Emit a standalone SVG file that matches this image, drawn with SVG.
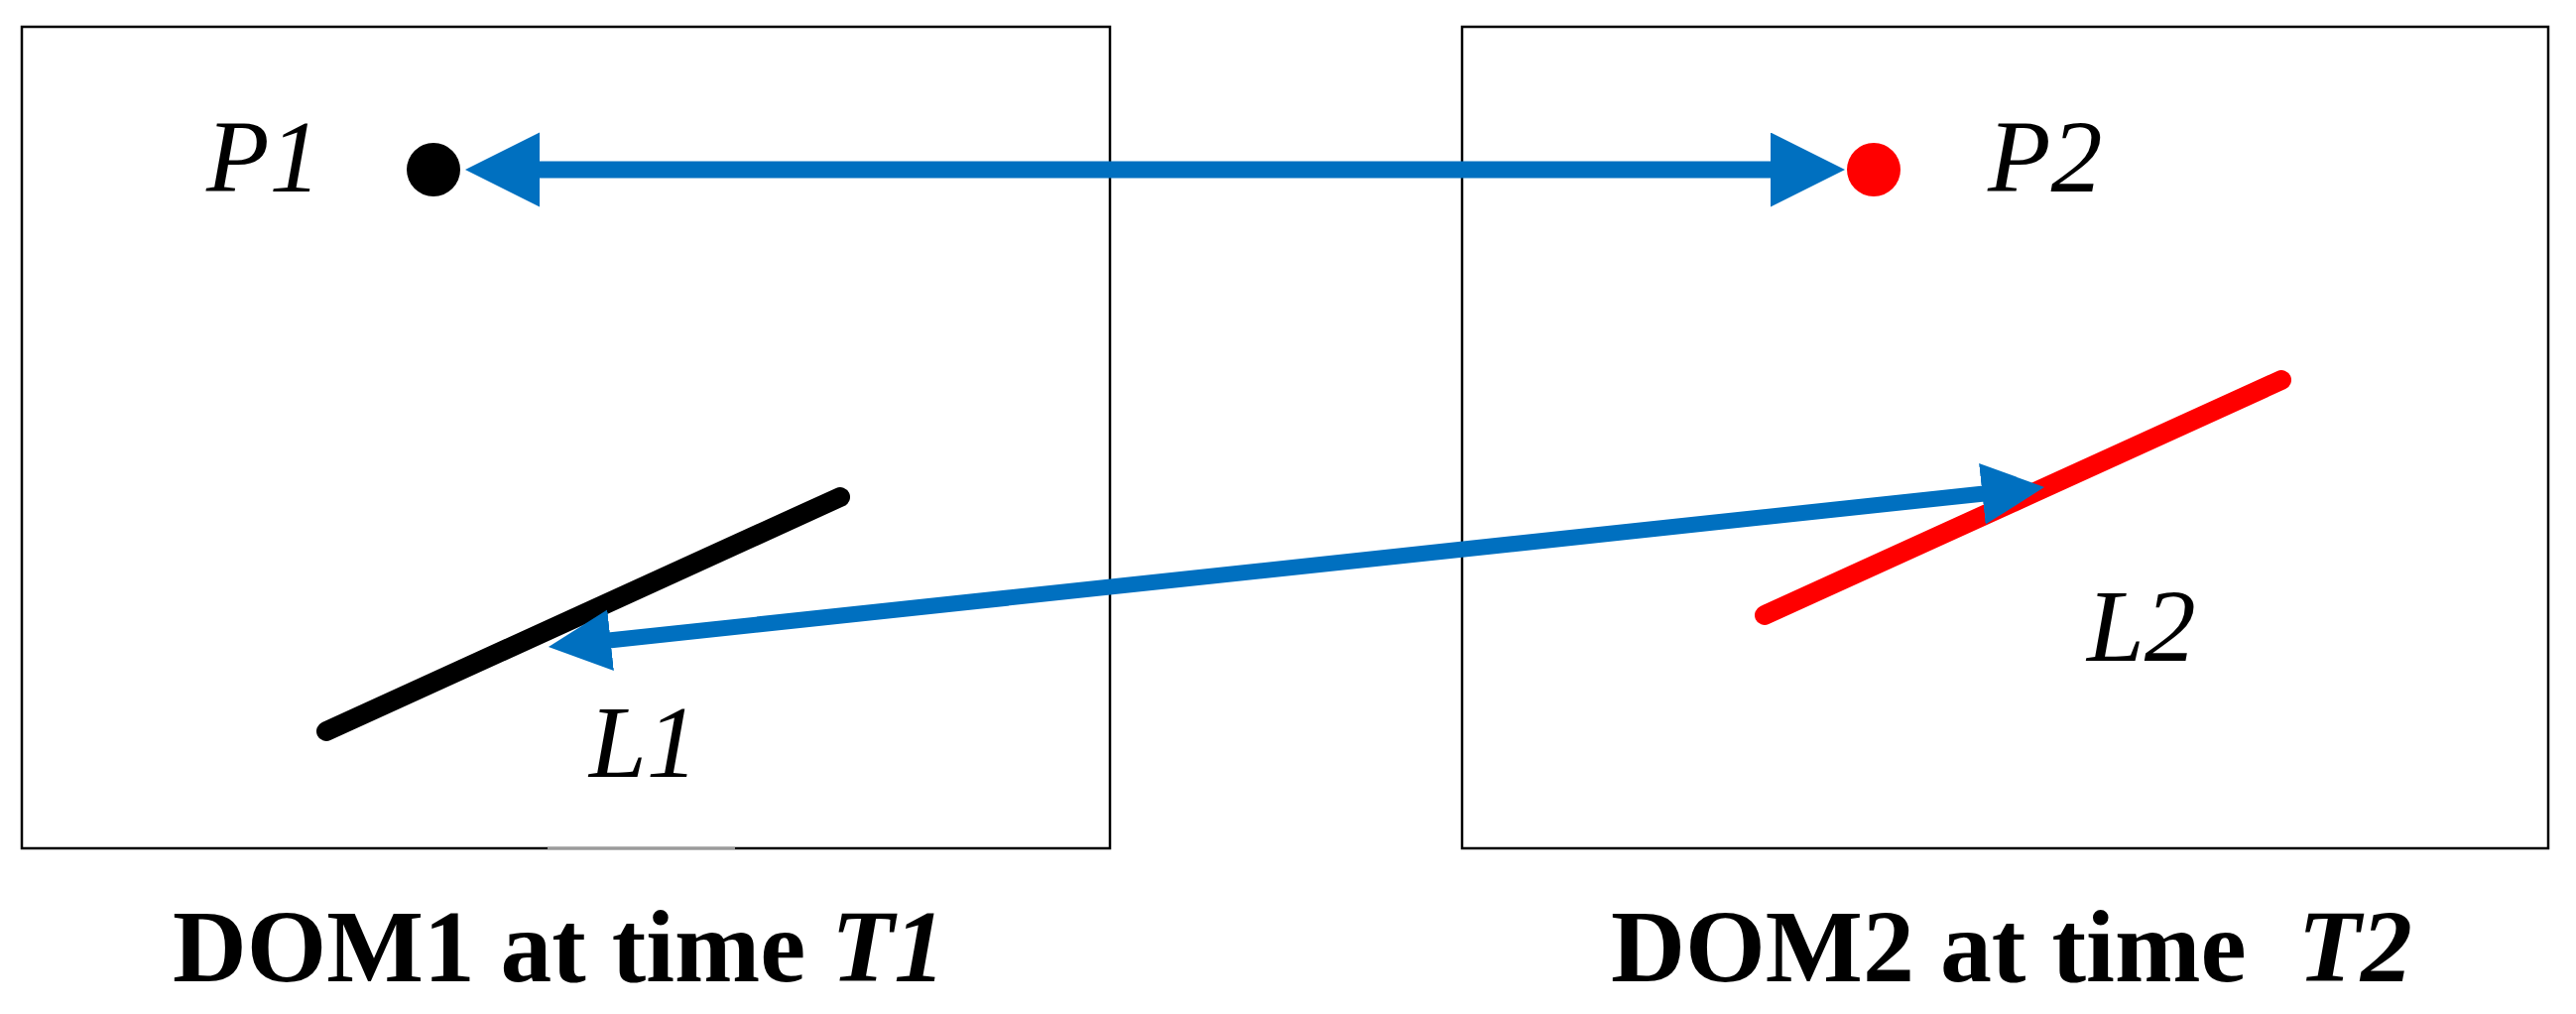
<svg xmlns="http://www.w3.org/2000/svg" width="2597" height="1022" viewBox="0 0 2597 1022">
  <style>
    .frame { fill: none; stroke: #000; stroke-width: 2.5; }
    .lbl { font-family: "Liberation Serif", "Times New Roman", serif; font-style: italic; font-size: 104px; fill: #000; }
    .cap { font-family: "Liberation Serif", "Times New Roman", serif; font-weight: bold; font-size: 104px; fill: #000; }
    .cap .it { font-style: italic; }
    .seg { fill: none; stroke-width: 20; stroke-linecap: round; }
    .conn { fill: none; stroke: #0070C0; }
  </style>
  <defs>
    <marker id="headBig" markerUnits="userSpaceOnUse" markerWidth="80" markerHeight="80" viewBox="0 0 80 80" refX="2" refY="37.5" orient="auto-start-reverse">
      <path d="M0,0 L75,37.5 L0,75 Z" fill="#0070C0"/>
    </marker>
    <marker id="headSmall" markerUnits="userSpaceOnUse" markerWidth="70" markerHeight="70" viewBox="0 0 70 70" refX="2" refY="31" orient="auto-start-reverse">
      <path d="M0,0 L63,31 L0,62 Z" fill="#0070C0"/>
    </marker>
  </defs>
  <rect width="2597" height="1022" fill="#fff"/>

  <g id="dom1">
    <rect class="frame" x="22" y="27" width="1097" height="828"/>
    <line x1="552" y1="855" x2="741" y2="855" stroke="#9a9a9a" stroke-width="2.5"/>
    <text class="cap" x="174" y="989" textLength="779" lengthAdjust="spacingAndGlyphs">DOM1 at time <tspan class="it">T1</tspan></text>
  </g>
  <g id="dom2">
    <rect class="frame" x="1474" y="27" width="1095" height="828"/>
    <text class="cap" x="1624" y="989" textLength="808" lengthAdjust="spacingAndGlyphs" xml:space="preserve">DOM2 at time  <tspan class="it">T2</tspan></text>
  </g>

  <g id="p1">
    <circle cx="437" cy="171" r="27" fill="#000"/>
    <text class="lbl" x="208" y="193">P1</text>
  </g>
  <g id="p2">
    <circle cx="1889" cy="171" r="27" fill="#FF0000"/>
    <text class="lbl" x="2004" y="193">P2</text>
  </g>
  <g id="l1">
    <line class="seg" x1="329" y1="737" x2="847" y2="501" stroke="#000"/>
    <text class="lbl" x="594" y="783">L1</text>
  </g>
  <g id="l2">
    <line class="seg" x1="1779" y1="620" x2="2300" y2="383" stroke="#FF0000"/>
    <text class="lbl" x="2104" y="666">L2</text>
  </g>

  <g id="connectors">
    <line class="conn" x1="542" y1="171" x2="1787" y2="171" stroke-width="17" marker-start="url(#headBig)" marker-end="url(#headBig)"/>
    <line class="conn" x1="613.6" y1="645.5" x2="2000.4" y2="497.5" stroke-width="16" marker-start="url(#headSmall)" marker-end="url(#headSmall)"/>
  </g>
</svg>
